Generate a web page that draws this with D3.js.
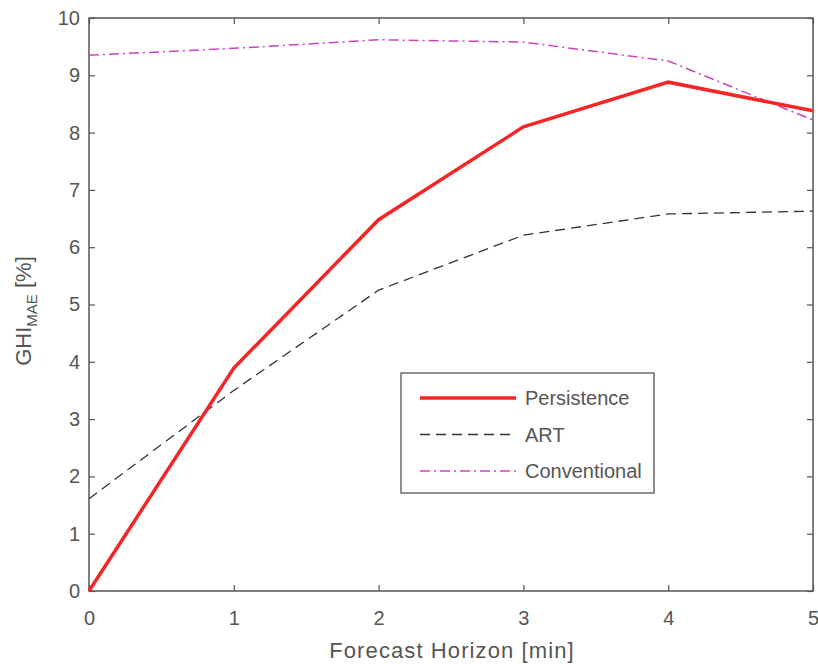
<!DOCTYPE html>
<html>
<head>
<meta charset="utf-8">
<script src="https://cdn.jsdelivr.net/npm/d3@7"></script>
<style>
  body { margin: 0; background: #fff; }
  text { font-family: "Liberation Sans", Arial, sans-serif; fill: #555; }
</style>
</head>
<body>
<div id="chart"></div>
<script>
// forecast horizon in minutes
const horizon = [0, 1, 2, 3, 4, 5];
const persistence = [0, 3.89, 6.48, 8.1, 8.88, 8.38];
const art = [1.61, 3.5, 5.25, 6.21, 6.58, 6.63];
const conventional = [9.35, 9.47, 9.62, 9.58, 9.25, 8.22];
const xTicks = [0, 1, 2, 3, 4, 5];
const yTicks = [0, 1, 2, 3, 4, 5, 6, 7, 8, 9, 10];

const width = 818,
    height = 664,
    margin = ({ top: 18, right: 5, bottom: 73, left: 89 });

const svg = d3.select("#chart")
    .append("svg")
    .attr("width", width)
    .attr("height", height);

let x = d3.scaleLinear()
    .domain([0, 5])
    .range([margin.left, width - margin.right]);

let y = d3.scaleLinear()
    .domain([0, 10])
    .range([height - margin.bottom, margin.top]);

const axisColor = "#555";

// inward ticks on all four sides, like a matlab box
function styleAxis(g) {
    g.select(".domain").remove();
    g.selectAll(".tick line").attr("stroke", axisColor).attr("stroke-width", 1.2);
    g.selectAll(".tick text").style("font-size", "20px").attr("fill", axisColor);
}

svg.append("g")
    .attr("transform", `translate(0,${height - margin.bottom})`)
    .call(d3.axisBottom(x).tickValues(xTicks).tickSize(-6).tickPadding(20).tickFormat(d3.format("d")))
    .call(styleAxis);

svg.append("g")
    .attr("transform", `translate(0,${margin.top})`)
    .call(d3.axisTop(x).tickValues(xTicks).tickSize(-6).tickFormat(""))
    .call(styleAxis);

svg.append("g")
    .attr("transform", `translate(${margin.left},0)`)
    .call(d3.axisLeft(y).tickValues(yTicks).tickSize(-6).tickPadding(9).tickFormat(d3.format("d")))
    .call(styleAxis);

svg.append("g")
    .attr("transform", `translate(${width - margin.right},0)`)
    .call(d3.axisRight(y).tickValues(yTicks).tickSize(-6).tickFormat(""))
    .call(styleAxis);

// box
svg.append("rect")
    .attr("x", margin.left)
    .attr("y", margin.top)
    .attr("width", width - margin.right - margin.left)
    .attr("height", height - margin.bottom - margin.top)
    .attr("fill", "none")
    .attr("stroke", axisColor)
    .attr("stroke-width", 1.5);

// labels
svg.append("text")
    .attr("text-anchor", "middle")
    .attr("x", 452)
    .attr("y", 658)
    .style("font-size", "22px")
    .style("letter-spacing", "1.1px")
    .text("Forecast Horizon [min]");

const yl = svg.append("text")
    .attr("text-anchor", "middle")
    .attr("transform", "translate(31,311) rotate(-90)")
    .style("font-size", "22px");
yl.append("tspan").text("GHI");
yl.append("tspan").attr("dy", 6).style("font-size", "15px").text("MAE");
yl.append("tspan").attr("dy", -6).text(" [%]");

const series = [
    { name: "Persistence", values: persistence, color: "#f52525", width: 3.5, dash: null },
    { name: "ART", values: art, color: "#333", width: 1.3, dash: "10,6" },
    { name: "Conventional", values: conventional, color: "#cc44c0", width: 1.5, dash: "10,4,2,4" }
];

let line = d3.line()
    .x((d, i) => x(horizon[i]))
    .y(d => y(d));

// draw bottom-up so persistence is on top
for (let s of series.slice().reverse()) {
    svg.append("path")
        .datum(s.values)
        .attr("d", line)
        .attr("fill", "none")
        .attr("stroke", s.color)
        .attr("stroke-width", s.width)
        .attr("stroke-dasharray", s.dash);
}

// legend
const legend = svg.append("g");
legend.append("rect")
    .attr("x", 401)
    .attr("y", 373)
    .attr("width", 253)
    .attr("height", 120)
    .attr("fill", "#fff")
    .attr("stroke", axisColor)
    .attr("stroke-width", 1.3);

series.forEach((s, i) => {
    const ly = 398 + i * 36.5;
    legend.append("line")
        .attr("x1", 420)
        .attr("x2", 516)
        .attr("y1", ly)
        .attr("y2", ly)
        .attr("stroke", s.color)
        .attr("stroke-width", s.width)
        .attr("stroke-dasharray", s.dash);
    legend.append("text")
        .attr("x", 525)
        .attr("y", ly + 7)
        .style("font-size", "20px")
        .attr("fill", "#444")
        .text(s.name);
});
</script>
</body>
</html>
